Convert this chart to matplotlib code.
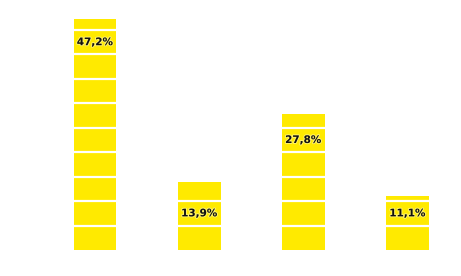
import matplotlib.pyplot as plt
import matplotlib.patheffects as pe
import numpy as np

categories = ['A', 'B', 'C', 'D']
values = [47.2, 13.9, 27.8, 11.1]
labels = ['47,2%', '13,9%', '27,8%', '11,1%']

fig = plt.figure(figsize=(4.61, 2.76), dpi=100)
ax = fig.add_axes([43 / 461, 26 / 276, 416.5 / 461, 244.5 / 276])

x = np.arange(len(categories))
ax.bar(x, values, width=0.41, color='#ffea00', zorder=1)

# white lines cut the bars every 5 %
for g in np.arange(5, 50, 5):
    ax.axhline(g, color='white', linewidth=1.6, zorder=2)

for xi, v, lab in zip(x, values, labels):
    ypos = np.floor(v / 5) * 5 - 2.5
    ax.text(xi, ypos, lab, ha='center', va='center', fontsize=7.5,
            fontweight='semibold', color='#111111', zorder=3,
            path_effects=[pe.withStroke(linewidth=1.5, foreground='white', alpha=0.4)])

ax.set_xlim(-0.5, 3.5)
ax.set_ylim(0, 50)
ax.axis('off')

fig.savefig('out.png', dpi=100)
